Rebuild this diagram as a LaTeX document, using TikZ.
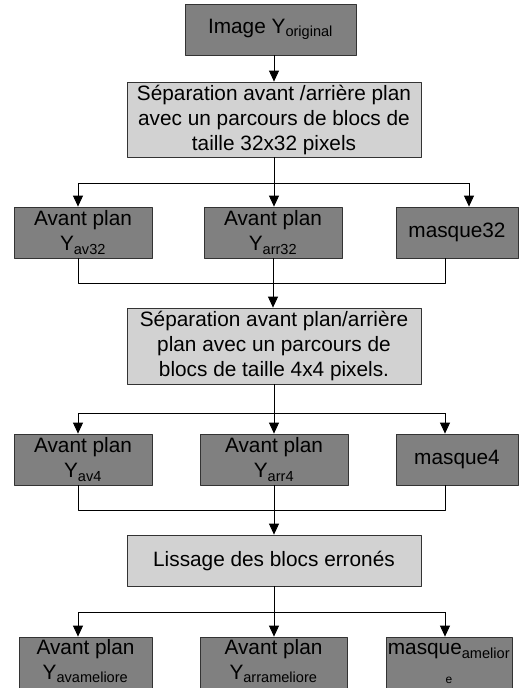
\documentclass[tikz,border=0pt]{standalone}
\usepackage{fontspec}
\setmainfont{Liberation Sans}
\usetikzlibrary{arrows.meta}
\begin{document}
\begin{tikzpicture}[x=1pt, y=-1pt, line join=round, >={Triangle[length=11pt,width=10pt]},
        font=\fontsize{20.8}{25}\selectfont,
        dark/.style={draw=black!80, fill=gray, line width=0.8pt, align=center,
            inner sep=1pt, minimum height=51pt},
        light/.style={draw=black!80, fill=gray!35, line width=0.8pt, align=center,
            inner sep=1pt, minimum width=294pt},
        lastrow/.style={dark, minimum height=56pt, text depth=12pt},
        link/.style={line width=0.8pt}]
        \useasboundingbox (0,0) rectangle (520,688);
        
        % boites
        \node[dark, minimum width=171pt, minimum height=51pt] (img) at (270.5,29.5)
        {Image Y\textsubscript{original}};
        \node[light, minimum height=75pt] (sep32) at (274,119.5)
        {Séparation avant /arrière plan\\avec un parcours de blocs de\\taille 32x32 pixels};
        \node[dark, minimum width=138pt] (av32) at (83,232.5) {Avant plan\\Y\textsubscript{av32}};
        \node[dark, minimum width=138pt] (arr32) at (273,232.5) {Avant plan\\Y\textsubscript{arr32}};
        \node[dark, minimum width=122pt] (mask32) at (457,232.5) {masque32};
        \node[light, minimum height=76pt] (sep4) at (274,346)
        {Séparation avant plan/arrière\\plan avec un parcours de\\blocs de taille 4x4 pixels.};
        \node[dark, minimum width=138pt] (av4) at (83,459.5) {Avant plan\\Y\textsubscript{av4}};
        \node[dark, minimum width=148pt] (arr4) at (274,459.5) {Avant plan\\Y\textsubscript{arr4}};
        \node[dark, minimum width=122pt] (mask4) at (457,459.5) {masque4};
        \node[light, minimum height=51pt] (liss) at (274,560.5) {Lissage des blocs erronés};
        \node[lastrow, minimum width=133pt] (avam) at (85.5,665)
        {Avant plan\\Y\textsubscript{avameliore}};
        \node[lastrow, minimum width=147pt] (arram) at (273.5,665)
        {Avant plan\\Y\textsubscript{arrameliore}};
        \node[lastrow, minimum width=126pt, text depth=3pt] (maskam) at (449,665)
        {masque\textsubscript{amelior}\\[4pt]{\fontsize{12}{12}\selectfont e}};
        
        % bus
        \path (78,183) coordinate (b1l) (469,183) coordinate (b1r)
        (78,283) coordinate (j1l) (445,283) coordinate (j1r)
        (78,413) coordinate (b2l) (445,413) coordinate (b2r)
        (78,510) coordinate (j2l) (445,510) coordinate (j2r)
        (78,612) coordinate (b3l) (445,612) coordinate (b3r);
        
        \draw[link,->] (sep32.north |- img.south) -- (sep32.north);
        \draw[link] (sep32.south) -- (sep32.south |- b1l) (b1l) -- (b1r);
        \draw[link,->] (b1l) -- (b1l |- av32.north);
        \draw[link,->] (sep32.south |- b1l) -- (sep32.south |- arr32.north);
        \draw[link,->] (b1r) -- (b1r |- mask32.north);
        \draw[link] (j1l |- av32.south) -- (j1l) -- (j1r) -- (j1r |- mask32.south)
        (arr32.south) -- (arr32.south |- j1l);
        \draw[link,->] (arr32.south |- j1l) -- (arr32.south |- sep4.north);
        
        \draw[link] (sep4.south) -- (sep4.south |- b2l) (b2l) -- (b2r);
        \draw[link,->] (b2l) -- (b2l |- av4.north);
        \draw[link,->] (sep4.south |- b2l) -- (sep4.south |- arr4.north);
        \draw[link,->] (b2r) -- (b2r |- mask4.north);
        \draw[link] (j2l |- av4.south) -- (j2l) -- (j2r) -- (j2r |- mask4.south)
        (arr4.south) -- (arr4.south |- j2l);
        \draw[link,->] (arr4.south |- j2l) -- (arr4.south |- liss.north);
        
        \draw[link] (liss.south) -- (liss.south |- b3l) (b3l) -- (b3r);
        \draw[link,->] (b3l) -- (b3l |- avam.north);
        \draw[link,->] (liss.south |- b3l) -- (liss.south |- arram.north);
        \draw[link,->] (b3r) -- (b3r |- maskam.north);
    \end{tikzpicture}
\end{document}
